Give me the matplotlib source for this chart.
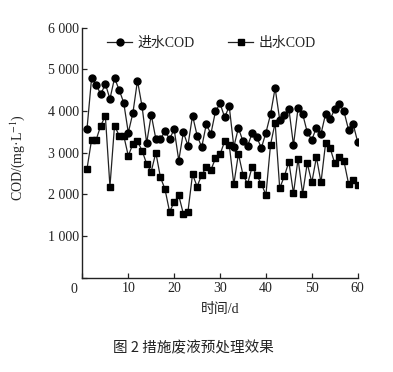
import matplotlib
matplotlib.use("Agg")
import matplotlib.pyplot as plt
from matplotlib.ticker import FuncFormatter, FixedLocator

days = list(range(1, 61))
inflow = [3570, 4790, 4630, 4400, 4650, 4290, 4790, 4510, 4200, 3480,
          3950, 4730, 4110, 3230, 3910, 3330, 3330, 3510, 3330, 3560,
          2810, 3490, 3170, 3890, 3410, 3130, 3680, 3450, 3990, 4180,
          3850, 4110, 3140, 3590, 3270, 3160, 3470, 3370, 3110, 3480,
          3920, 4550, 3790, 3910, 4050, 3180, 4070, 3930, 3490, 3310,
          3600, 3450, 3930, 3800, 4050, 4170, 3990, 3550, 3690, 3250]
outflow = [2610, 3310, 3310, 3650, 3880, 2185, 3650, 3410, 3410, 2920,
           3210, 3270, 3050, 2730, 2545, 3000, 2410, 2120, 1580, 1810,
           1970, 1530, 1580, 2480, 2185, 2465, 2650, 2585, 2860, 2960,
           3270, 3190, 2240, 2970, 2465, 2250, 2660, 2455, 2250, 1985,
           3190, 3720, 2145, 2430, 2780, 2020, 2850, 2010, 2746, 2285,
           2890, 2285, 3227, 3107, 2740, 2906, 2795, 2255, 2350, 2225]
series_names = ["进水COD", "出水COD"]
xticks = [10, 20, 30, 40, 50, 60]
yticks = [1000, 2000, 3000, 4000, 5000, 6000]

serif = ["Liberation Serif", "Noto Sans CJK SC"]
plt.rcParams["font.family"] = serif
plt.rcParams["mathtext.fontset"] = "stix"

fig = plt.figure(figsize=(3.93, 3.72), dpi=100)
ax = fig.add_axes([0.2097, 0.254, 0.7005, 0.6715])

lc = "#222222"
ax.plot(days, inflow, color=lc, lw=0.9, marker="o", ms=5.0,
        mfc="black", mec="black", label=series_names[0])
ax.plot(days, outflow, color=lc, lw=0.9, marker="s", ms=4.6,
        mfc="black", mec="black", label=series_names[1])

ax.set_xlim(0, 60)
ax.set_ylim(0, 6000)
ax.xaxis.set_major_locator(FixedLocator([0] + xticks))
ax.yaxis.set_major_locator(FixedLocator([0] + yticks))
ax.xaxis.set_major_formatter(FuncFormatter(lambda v, p: "" if v == 0 else f"{int(v)}"))
ax.yaxis.set_major_formatter(FuncFormatter(
    lambda v, p: "" if v == 0 else f"{int(v)//1000} {int(v)%1000:03d}"))
ax.tick_params(direction="in", length=3.6, width=0.9, labelsize=10,
               colors="#222222", pad=3)
ax.tick_params(axis="y", pad=2.5)
ax.annotate("0", xy=(0, 0), xycoords="axes fraction", xytext=(-6, -4),
            textcoords="offset points", ha="center", va="top",
            fontsize=10, color="#222222")

for s in ["top", "right"]:
    ax.spines[s].set_visible(False)
for s in ["left", "bottom"]:
    ax.spines[s].set_linewidth(1.0)
    ax.spines[s].set_color("#222222")

ax.set_ylabel("COD/(mg·L$^{-1}$)", fontsize=10, color="#222222")
ax.yaxis.set_label_coords(-0.20, 0.482)
ax.set_xlabel("时间/d", fontsize=10, color="#222222", labelpad=6)

leg = ax.legend(loc="upper left", bbox_to_anchor=(0.07, 0.985), ncol=2,
                frameon=False, fontsize=10, handlelength=1.8,
                handletextpad=0.4, columnspacing=2.4, borderaxespad=0)
for t in leg.get_texts():
    t.set_color("#222222")

fig.text(0.492, 0.065, "图 2 措施废液预处理效果", ha="center", va="center",
         fontsize=10.5, family=["Noto Sans CJK SC", "DejaVu Sans"], color="#222222")

fig.savefig("out.png", dpi=100, facecolor="white")
